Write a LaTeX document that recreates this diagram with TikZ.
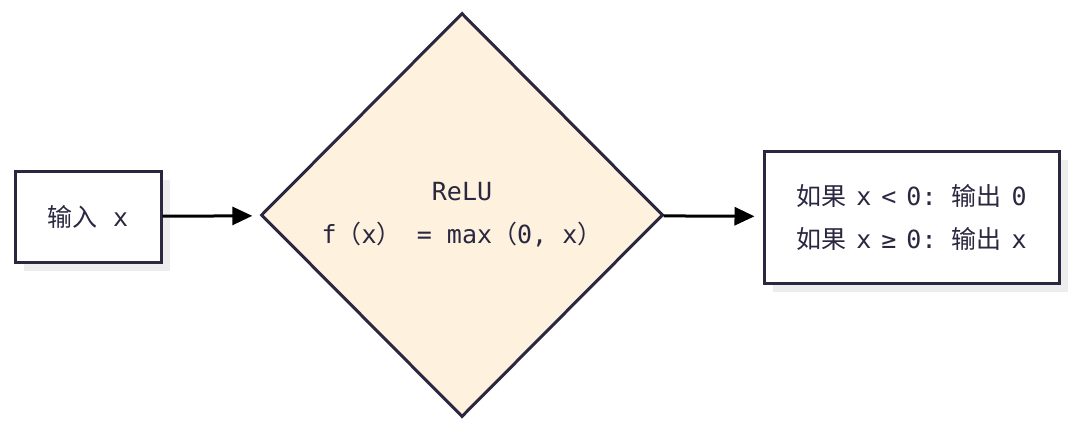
\documentclass[tikz,border=0pt]{standalone}
\usepackage{fontspec}
\setmainfont{DejaVu Sans Mono}
\newfontfamily\cjk{Noto Sans CJK SC}
\usetikzlibrary{arrows.meta,positioning,shapes.geometric,shadows}
\definecolor{edge}{HTML}{2A2840}
\definecolor{relufill}{HTML}{FEF1DE}
\newcommand{\narrowsp}{\spaceskip=10pt\relax}
\tikzset{
  box/.style={draw=edge, line width=3pt, fill=white, align=center, text=edge,
    general shadow={fill=black!7, shadow xshift=9pt, shadow yshift=-9pt}},
  gate/.style={diamond, draw=edge, line width=3pt, fill=relufill, align=center, text=edge,
    minimum width=402pt, minimum height=404pt, inner sep=0pt},
  flow/.style={line width=3pt, -{Triangle[length=20pt,width=18pt]}, shorten >=8pt},
}
\begin{document}
\begin{tikzpicture}[x=1pt,y=-1pt,font=\fontsize{25pt}{43pt}\selectfont]
\useasboundingbox (0,0) rectangle (1075,434);
\node[box, minimum width=146pt, minimum height=91pt] (in) at (88,216.5) {{\cjk 输入} x};
\node[gate] (relu) at (462,215) {ReLU\\f{\cjk （}x{\cjk ）} = max{\cjk （}0, x{\cjk ）}};
\node[box, minimum width=295pt, minimum height=132pt,
  font=\fontsize{25pt}{43pt}\selectfont\narrowsp] (out) at (911.5,217)
  {{\cjk 如果} x < 0: {\cjk 输出} 0\\{\cjk 如果} x ≥ 0: {\cjk 输出} x};
\draw[flow] (in) -- (relu);
\draw[flow] (relu) -- (out);
\end{tikzpicture}
\end{document}
